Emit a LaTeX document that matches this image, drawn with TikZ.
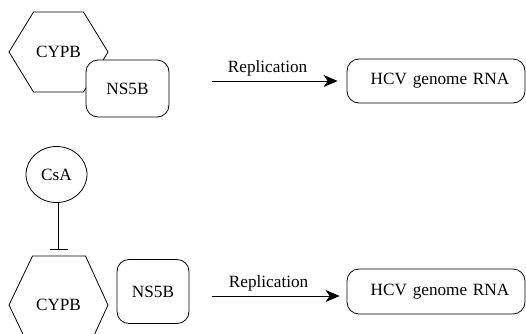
\documentclass[tikz,border=0pt]{standalone}
\usepackage{fontspec}
\setmainfont{Liberation Serif}
\usetikzlibrary{arrows.meta,shapes.geometric}
\begin{document}
\begin{tikzpicture}[x=1pt,y=-1pt,
  every node/.style={font=\fontsize{17.2}{20}\selectfont},
  lbl/.style={inner sep=0pt},
  rbox/.style={draw,line width=0.8pt,rounded corners=12pt,fill=white,inner sep=0pt},
  hexline/.style={draw,line width=0.8pt},
  arr/.style={line width=0.8pt,-{Stealth[length=14pt,width=12pt,inset=4pt]}},
  inh/.style={line width=0.8pt,-{Bar[width=18pt,line width=0.8pt]}}]
\useasboundingbox (0,0) rectangle (526,333);
% top row
\node[lbl] (cypb1) at (58.5,52) {CYPB};
\draw[hexline,shift={(cypb1.center)}] (-49.5,0) -- (-25,-40) -- (25,-40) -- (49.5,0) -- (25,40) -- (-25,40) -- cycle;
\node[rbox,minimum width=83pt,minimum height=57pt] (ns5b1) at (127.5,88.5) {NS5B};
\node[rbox,minimum width=178pt,minimum height=44pt,text width=170pt,align=center] (hcv1) at (436,81) {\hspace*{8pt}HCV genome RNA};
\draw[arr] ([xshift=-135pt]hcv1.west) -- ([xshift=-9pt]hcv1.west)
  node[midway,above=4pt,xshift=-7pt,lbl] {Replication};
% bottom row
\node[draw,ellipse,line width=0.8pt,minimum width=61pt,minimum height=56pt,inner sep=0pt] (csa) at (56.5,174.5) {CsA};
\node[lbl] (cypb2) at (58.5,305) {CYPB};
\draw[hexline,shift={(cypb2.center)}] (-49.5,0) -- (-26,-49) -- (27,-49) -- (49.5,0) -- (27,49) -- (-26,49) -- cycle;
\draw[inh] (csa.south -| cypb2.center) -- ([yshift=55pt]cypb2.center);
\node[rbox,minimum width=72pt,minimum height=64pt] (ns5b2) at (153,291.5) {NS5B};
\node[rbox,minimum width=178pt,minimum height=45pt,text width=170pt,align=center] (hcv2) at (436,291.5) {\hspace*{8pt}HCV genome RNA};
\draw[arr] ([xshift=-135pt,yshift=-4.5pt]hcv2.west) -- ([xshift=-7pt,yshift=-4.5pt]hcv2.west)
  node[midway,above=4pt,xshift=-7pt,lbl] {Replication};
\end{tikzpicture}
\end{document}
